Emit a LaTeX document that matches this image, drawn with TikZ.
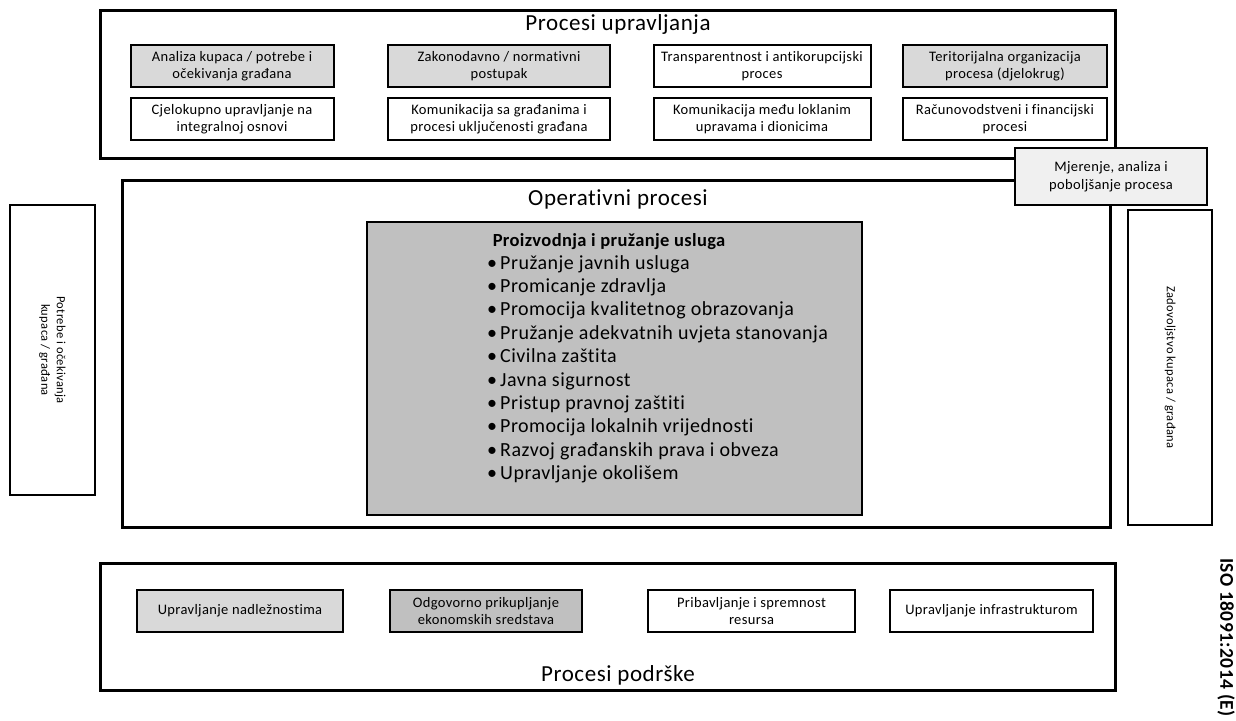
\documentclass[tikz,border=0pt]{standalone}
\usepackage{fontspec}
\setmainfont[Ligatures={NoCommon}]{Carlito}
\newfontfamily\wide[LetterSpace=2.5,Ligatures={NoCommon}]{Carlito}
\newfontfamily\widebold[LetterSpace=2,Ligatures={NoCommon},BoldFont={* Bold}]{Carlito}
\definecolor{lgray}{HTML}{D9D9D9}
\definecolor{mgray}{HTML}{C0C0C0}
\definecolor{pgray}{HTML}{F0F0F0}
\begin{document}
\begin{tikzpicture}[x=1pt,y=-1pt,
  outerbox/.style={draw=black,line width=3pt,fill=white},
  sbox/.style={draw=black,line width=2pt,fill=white,align=center,inner sep=0pt,
    font=\wide\fontsize{14.5}{17.5}\selectfont},
  titletext/.style={font=\wide\fontsize{23}{27}\selectfont,inner sep=0pt},
  sidetext/.style={rotate=-90,align=center,font=\wide\fontsize{12.5}{15.5}\selectfont,inner sep=0pt}]
\useasboundingbox (0,0) rectangle (1236,720);
% ---- top: management processes
\node[outerbox,minimum width=1015pt,minimum height=148pt,inner sep=0pt] (top) at (608,84) {};
\node[titletext] (toptitle) at (618,24) {Procesi upravljanja};
\node[sbox,fill=lgray,minimum width=203pt,minimum height=42pt] (a1) at (232,66) {Analiza kupaca / potrebe i\\očekivanja građana};
\node[sbox,fill=lgray,minimum width=222pt,minimum height=42pt] (a2) at (499,66) {Zakonodavno / normativni\\postupak};
\node[sbox,minimum width=217pt,minimum height=42pt] (a3) at (762,66) {Transparentnost i antikorupcijski\\proces};
\node[sbox,fill=lgray,minimum width=204pt,minimum height=42pt] (a4) at (1005,66) {Teritorijalna organizacija\\procesa (djelokrug)};
\node[sbox,minimum width=203pt,minimum height=42pt] (b1) at (232,119) {Cjelokupno upravljanje na\\integralnoj osnovi};
\node[sbox,minimum width=222pt,minimum height=42pt] (b2) at (499,119) {Komunikacija sa građanima i\\procesi uključenosti građana};
\node[sbox,minimum width=217pt,minimum height=42pt] (b3) at (762,119) {Komunikacija među loklanim\\upravama i dionicima};
\node[sbox,minimum width=204pt,minimum height=42pt] (b4) at (1005,119) {Računovodstveni i financijski\\procesi};
% ---- operational processes
\node[outerbox,minimum width=988pt,minimum height=347pt,inner sep=0pt] (ops) at (616,353.5) {};
\node[titletext] (opstitle) at (618,199) {Operativni procesi};
\node[draw=black,line width=2pt,fill=mgray,minimum width=495pt,minimum height=293pt,inner sep=0pt] (core) at (614.5,368.5) {};
\node[font=\widebold\fontsize{18.5}{23}\selectfont\bfseries,inner sep=0pt] (corehead) at (609,242) {Proizvodnja i pružanje usluga};
\node[anchor=north west,align=left,inner sep=0pt,font=\wide\fontsize{20}{23.4}\selectfont] (corelist) at (487,255) {%
\makebox[13pt][l]{•}Pružanje javnih usluga\\
\makebox[13pt][l]{•}Promicanje zdravlja\\
\makebox[13pt][l]{•}Promocija kvalitetnog obrazovanja\\
\makebox[13pt][l]{•}Pružanje adekvatnih uvjeta stanovanja\\
\makebox[13pt][l]{•}Civilna zaštita\\
\makebox[13pt][l]{•}Javna sigurnost\\
\makebox[13pt][l]{•}Pristup pravnoj zaštiti\\
\makebox[13pt][l]{•}Promocija lokalnih vrijednosti\\
\makebox[13pt][l]{•}Razvoj građanskih prava i obveza\\
\makebox[13pt][l]{•}Upravljanje okolišem};
% ---- measurement box overlapping
\node[sbox,fill=pgray,minimum width=192pt,minimum height=57pt] (meas) at (1111,176.5) {Mjerenje, analiza i\\poboljšanje procesa};
% ---- side boxes
\node[draw=black,line width=2pt,fill=white,minimum width=85pt,minimum height=290pt,inner sep=0pt] (left) at (52.5,350) {};
\node[sidetext] (lefttext) at (left.center) {Potrebe i očekivanja\\kupaca / građana};
\node[draw=black,line width=2pt,fill=white,minimum width=84pt,minimum height=315pt,inner sep=0pt] (right) at (1170,367.5) {};
\node[sidetext] (righttext) at (right.center) {Zadovoljstvo kupaca / građana};
% ---- support processes
\node[outerbox,minimum width=1015pt,minimum height=127pt,inner sep=0pt] (sup) at (608,626.5) {};
\node[titletext] (suptitle) at (618,675) {Procesi podrške};
\node[sbox,fill=lgray,minimum width=206pt,minimum height=42pt] (c1) at (240,611) {Upravljanje nadležnostima};
\node[sbox,fill=mgray,minimum width=192pt,minimum height=42pt] (c2) at (486,611) {Odgovorno prikupljanje\\ekonomskih sredstava};
\node[sbox,minimum width=207pt,minimum height=42pt] (c3) at (751.5,611) {Pribavljanje i spremnost\\resursa};
\node[sbox,minimum width=203pt,minimum height=42pt] (c4) at (991.5,611) {Upravljanje infrastrukturom};
% ---- ISO label
\node[rotate=-90,anchor=west,font=\widebold\fontsize{19.5}{22}\selectfont\bfseries,inner sep=0pt] (iso) at (1226,558) {ISO 18091:2014 (E)};
\end{tikzpicture}
\end{document}
